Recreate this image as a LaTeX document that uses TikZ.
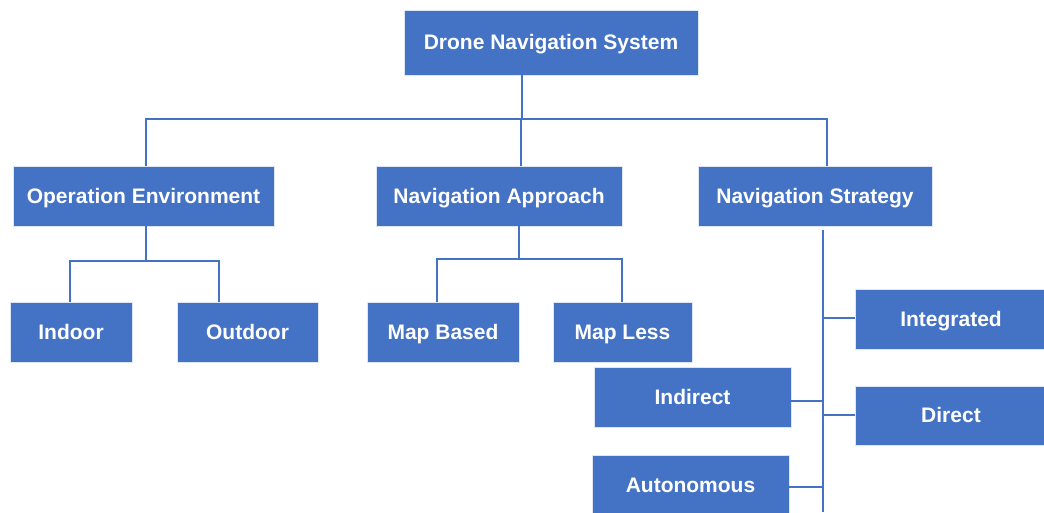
\documentclass[tikz,border=0pt]{standalone}
\usepackage{fontspec}
\setmainfont{Liberation Sans}
\definecolor{boxblue}{HTML}{4472C4}
\definecolor{edgelight}{HTML}{DCE6F4}
\begin{document}
\begin{tikzpicture}[x=1pt,y=-1pt,
  box/.style={rectangle, fill=boxblue, draw=edgelight, line width=0.8pt, text=white,
    font=\fontsize{21}{25}\selectfont\bfseries, inner sep=0pt,
    text height=15.5pt, text depth=1.5pt},
  conn/.style={draw=boxblue, line width=2.4pt}]
\useasboundingbox (0,0) rectangle (1044,512);
% nodes
\node[box, minimum width=294pt, minimum height=65pt] (root) at (551,42.5) {Drone Navigation System};
\node[box, minimum width=261pt, minimum height=60pt] (oe) at (143.5,196) {Operation Environment};
\node[box, minimum width=246pt, minimum height=60pt] (na) at (499,196) {Navigation Approach};
\node[box, minimum width=234pt, minimum height=60pt] (ns) at (815,196) {Navigation Strategy};
\node[box, minimum width=122pt, minimum height=60pt] (indoor) at (71,332) {Indoor};
\node[box, minimum width=141pt, minimum height=60pt] (outdoor) at (247.5,332) {Outdoor};
\node[box, minimum width=152pt, minimum height=60pt] (mapbased) at (443,332) {Map Based};
\node[box, minimum width=139pt, minimum height=60pt] (mapless) at (622.5,332) {Map Less};
\node[box, minimum width=192pt, minimum height=60pt] (integrated) at (951,319) {Integrated};
\node[box, minimum width=197pt, minimum height=60pt] (indirect) at (692.5,397) {Indirect};
\node[box, minimum width=192pt, minimum height=59pt] (direct) at (951,415.5) {Direct};
\node[box, minimum width=197pt, minimum height=60pt] (autonomous) at (690.5,485) {Autonomous};
% junction coordinates
\coordinate (rj) at (522,119);
\coordinate (b1) at (146,119);
\coordinate (b2) at (827,119);
\coordinate (naj) at (521,119);
\coordinate (oej) at (146,261);
\coordinate (ij) at (70,261);
\coordinate (oj) at (219,261);
\coordinate (nabj) at (519,259);
\coordinate (mbj) at (437,259);
\coordinate (mlj) at (622,259);
\coordinate (spinetop) at (823,230);
\coordinate (spinebot) at (823,512);
% connectors
\draw[conn] (root.south -| rj) -- (rj);
\draw[conn] (oe.north -| b1) -- (b1) -- (b2) -- (ns.north -| b2);
\draw[conn] (naj) -- (na.north -| naj);
\draw[conn] (oe.south -| oej) -- (oej);
\draw[conn] (indoor.north -| ij) -- (ij) -- (oj) -- (outdoor.north -| oj);
\draw[conn] (na.south -| nabj) -- (nabj);
\draw[conn] (mapbased.north -| mbj) -- (mbj) -- (mlj) -- (mapless.north -| mlj);
\draw[conn] (spinetop) -- (spinebot);
\draw[conn] ([yshift=1pt]integrated.west) -- ([yshift=1pt]integrated.west -| spinetop);
\draw[conn] ([yshift=-4pt]indirect.east) -- ([yshift=-4pt]indirect.east -| spinetop);
\draw[conn] ([yshift=0.5pt]direct.west) -- ([yshift=0.5pt]direct.west -| spinetop);
\draw[conn] ([yshift=-2pt]autonomous.east) -- ([yshift=-2pt]autonomous.east -| spinetop);
\end{tikzpicture}
\end{document}
